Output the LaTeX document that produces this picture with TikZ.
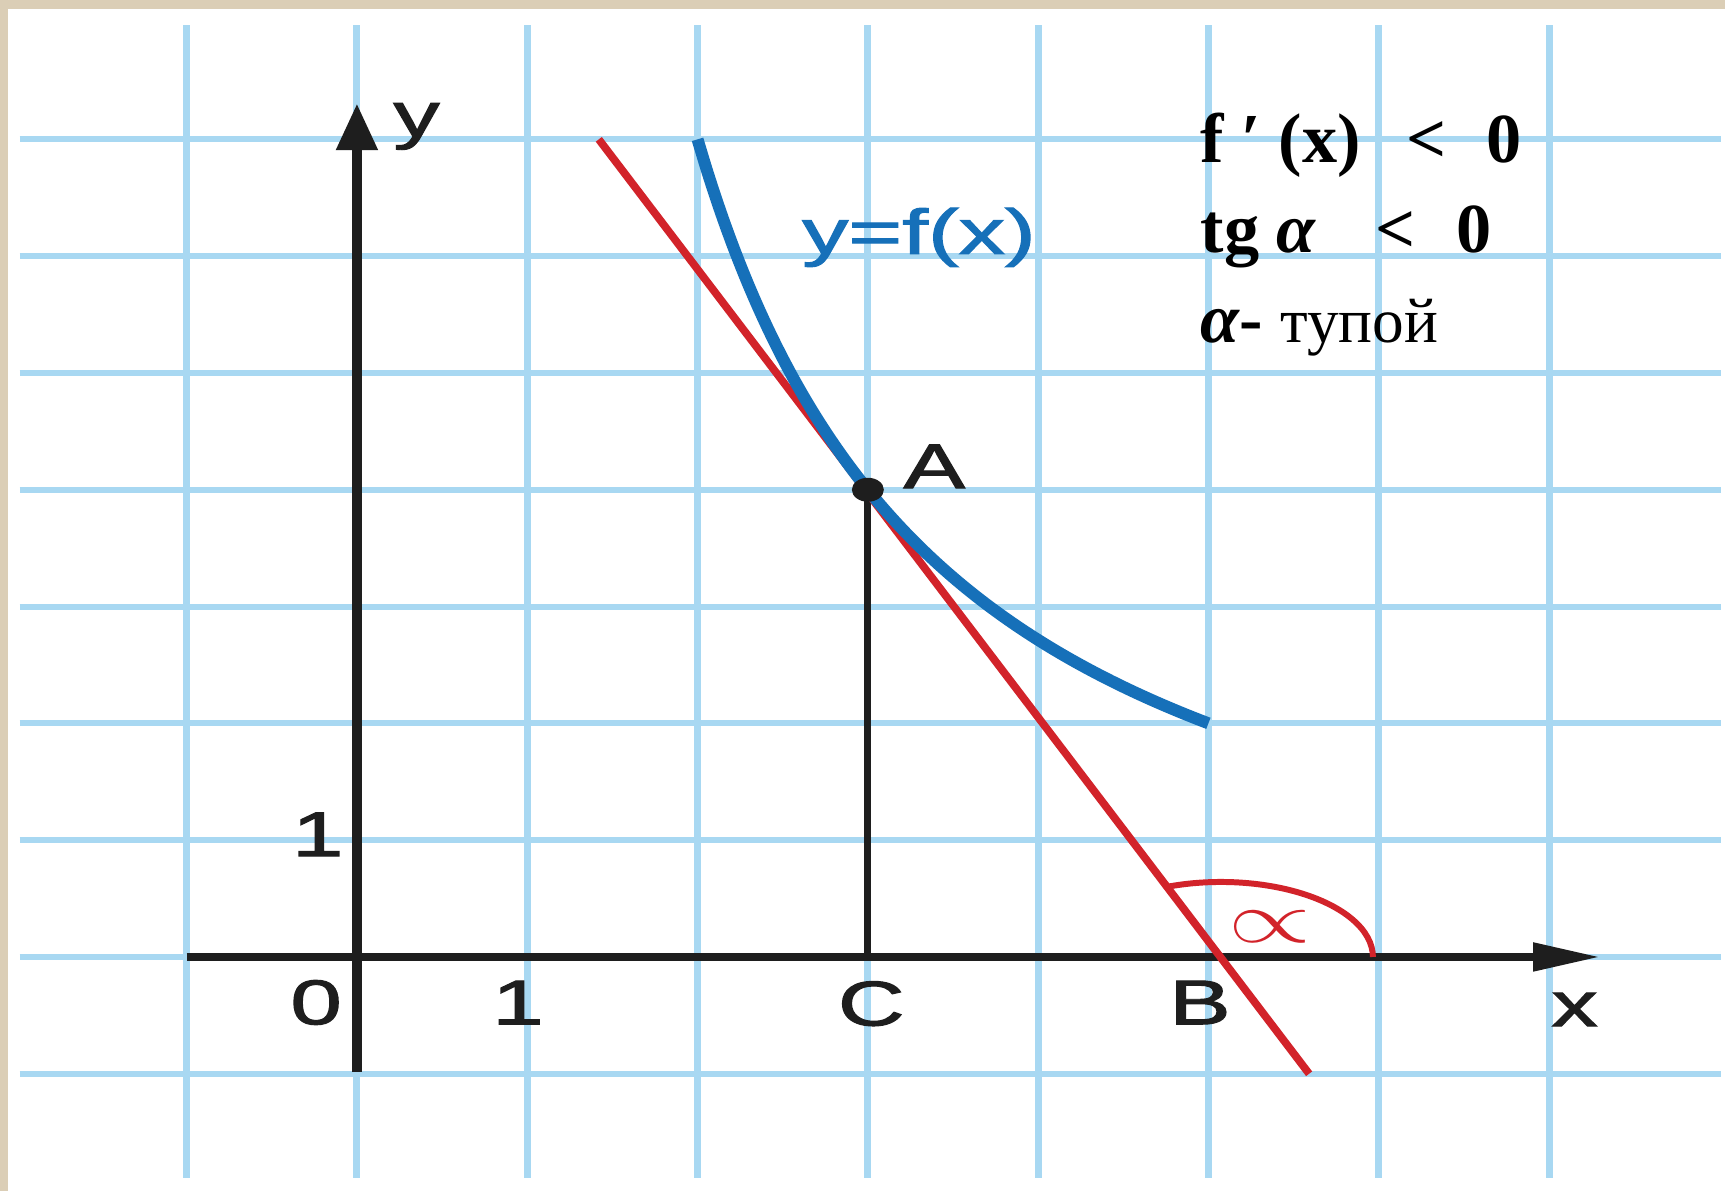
\documentclass[tikz,border=0pt]{standalone}
\usepackage{fontspec}
\setmainfont{Liberation Serif}
\newfontfamily\rotulofont[FakeBold=1.5]{Liberation Sans}
\usetikzlibrary{arrows.meta}
\definecolor{cuadricula}{RGB}{168,216,242}
\definecolor{azulcurva}{RGB}{22,112,185}
\definecolor{rojo}{RGB}{210,35,42}
\definecolor{marco}{RGB}{219,206,182}
\definecolor{tinta}{RGB}{30,30,30}
\begin{document}
\begin{tikzpicture}[x=1.703cm, y=1.168cm, line cap=butt,
    rotulo/.style={font=\rotulofont\fontsize{18}{18}\selectfont, text=tinta, xscale=1.46, inner sep=0pt},
    formula/.style={font=\fontsize{20}{24}\selectfont\bfseries, anchor=base west, inner sep=0pt}]
  \useasboundingbox (-2.096,-2.003) rectangle (8.033,8.193);
  \fill[white] (-2.096,-2.003) rectangle (8.033,8.193);
  % el marco de papel, arriba y a la izquierda
  \fill[marco] (-2.096,8.116) rectangle (8.033,8.193);
  \fill[marco] (-2.096,-2.003) rectangle (-2.049,8.193);
  % la cuadricula del cuaderno
  \foreach \x in {-1,...,7} { \draw[cuadricula, line width=2pt] (\x,-1.89) -- (\x,7.98); }
  \foreach \y in {-1,...,7} { \draw[cuadricula, line width=1.7pt] (-1.98,\y) -- (8.01,\y); }
  % los ejes
  \draw[tinta, line width=2.3pt, -{Triangle[length=6.7mm, width=2.7mm]}] (-1,0) -- (7.30,0);
  \draw[tinta, line width=3.1pt, -{Triangle[length=4.7mm, width=3.9mm]}] (0,-0.985) -- (0,7.31);
  % los puntos
  \coordinate (A) at (3,4);
  \coordinate (B) at (5.073,0);
  \coordinate (C) at (3,0);
  \coordinate (T1) at (1.42,7);
  \coordinate (T2) at (5.591,-1);
  % la perpendicular, la tangente y la curva
  \draw[tinta, line width=2pt] (A) -- (C);
  \draw[rojo, line width=2.2pt] (T1) -- (T2);
  \draw[azulcurva, line width=3.4pt] plot[domain=2:5, samples=60, smooth] (\x, {-0.5+11.25/(\x-0.5)});
  \fill[tinta] (A) ellipse [x radius=0.16cm, y radius=0.12cm];
  % el angulo en B
  \draw[rojo, line width=1.7pt] ([xshift=1.52cm]B) arc[start angle=0, end angle=110, x radius=1.52cm, y radius=0.75cm];
  % los rotulos
  \node[rotulo] (etiqy) at (0.35,7.11) {y};
  \node[rotulo] (etiqx) at (7.15,-0.45) {x};
  \node[rotulo] (cero) at (-0.24,-0.39) {0};
  \node[rotulo] (unox) at (0.945,-0.39) {1};
  \node[rotulo] (unoy) at (-0.23,1.05) {1};
  \node[rotulo] (etiqA) at (3.39,4.20) {A};
  \node[rotulo] (etiqB) at (4.95,-0.39) {B};
  \node[rotulo] (etiqC) at (3.02,-0.40) {C};
  \node[rotulo, text=azulcurva] (etiqf) at (3.30,6.16) {y=f(x)};
  \node[rotulo, text=rojo, font=\fontsize{20}{20}\selectfont] (alfa) at (5.36,0.257) {$\propto$};
  % las condiciones
  \node[formula] (fprima) at (4.95,6.80) {f ′ (x)\hspace{0.65em}<\hspace{0.57em}0};
  \node[formula] (tga) at (4.95,6.03) {tg {\itshape α}\hspace{0.85em}<\hspace{0.58em}0};
  \node[formula] (obtuso) at (4.95,5.26) {{\itshape α}- {\mdseries\fontsize{18}{24}\selectfont тупой}};
\end{tikzpicture}
\end{document}
